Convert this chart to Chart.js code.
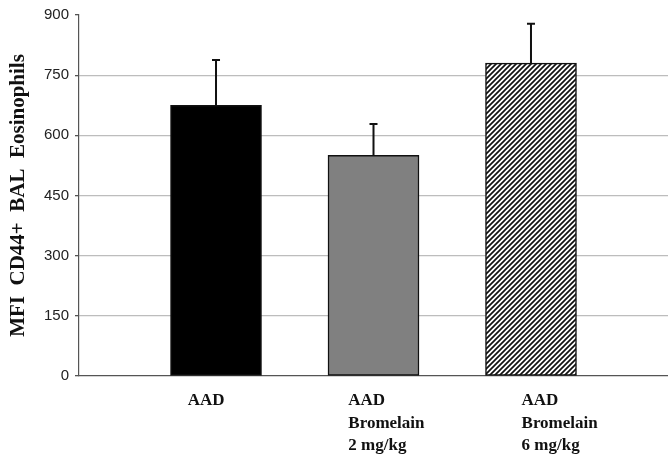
<!DOCTYPE html>
<html>
<head>
<meta charset="utf-8">
<script src="https://cdn.jsdelivr.net/npm/chart.js@4/dist/chart.umd.min.js"></script>
<style>
  html, body { margin: 0; padding: 0; background: #fff; }
  #wrap { width: 668px; height: 454px; }
</style>
</head>
<body>
<div id="wrap"><canvas id="chart" width="668" height="454"></canvas></div>
<script>
// groups, values
const groups = [["AAD"], ["AAD", "Bromelain", "2 mg/kg"], ["AAD", "Bromelain", "6 mg/kg"]];
const positions = [1, 2, 3];
const means = [675, 550, 780];
const upper = [788, 628, 878];
const yTicks = [0, 150, 300, 450, 600, 750, 900];
// where the left edge of each group label sits on the x scale
const labelPos = [0.82, 1.84, 2.94];

// hatch pattern for the third bar
const T = 5;
const tile = document.createElement('canvas');
tile.width = T; tile.height = T;
const tctx = tile.getContext('2d');
tctx.fillStyle = '#fff';
tctx.fillRect(0, 0, T, T);
tctx.strokeStyle = '#111';
tctx.lineWidth = 1.7;
tctx.beginPath();
tctx.moveTo(-1, T + 1); tctx.lineTo(T + 1, -1);
tctx.moveTo(-1, 1); tctx.lineTo(1, -1);
tctx.moveTo(T - 1, T + 1); tctx.lineTo(T + 1, T - 1);
tctx.stroke();
const hatch = document.getElementById('chart').getContext('2d').createPattern(tile, 'repeat');

const errorBars = {
	id: 'errorBars',
	afterDatasetsDraw(chart) {
		const { ctx, scales: { x, y } } = chart;
		ctx.save();
		ctx.strokeStyle = '#111';
		ctx.lineWidth = 2;
		positions.forEach((p, i) => {
			const px = x.getPixelForValue(p);
			const top = y.getPixelForValue(upper[i]);
			const base = y.getPixelForValue(means[i]);
			ctx.beginPath();
			ctx.moveTo(px, base);
			ctx.lineTo(px, top);
			ctx.moveTo(px - 4, top);
			ctx.lineTo(px + 4, top);
			ctx.stroke();
		});
		ctx.restore();
	}
};

new Chart(document.getElementById('chart'), {
	type: 'bar',
	data: {
		datasets: [{
			data: positions.map((p, i) => ({ x: p, y: means[i] })),
			backgroundColor: ['#000', '#808080', hatch],
			borderColor: '#111',
			borderWidth: 1.5,
			borderSkipped: false,
			barThickness: 91
		}]
	},
	plugins: [errorBars],
	options: {
		responsive: false,
		animation: false,
		layout: { padding: { top: 11, right: 0, left: 0, bottom: 0 } },
		plugins: {
			legend: { display: false },
			tooltip: { enabled: false }
		},
		scales: {
			x: {
				type: 'linear',
				offset: false,
				min: 0.13,
				max: 3.87,
				afterBuildTicks: (scale) => {
					scale.ticks = labelPos.map(v => ({ value: v }));
				},
				afterFit: (scale) => { scale.height = 78; },
				grid: { display: false },
				border: { display: true, color: '#555', width: 1.2 },
				ticks: {
					align: 'start',
					padding: 6,
					color: '#111',
					font: { family: 'Liberation Serif', size: 17, weight: 'bold', lineHeight: 1.3 },
					callback: (v, i) => groups[i]
				}
			},
			y: {
				min: 0,
				max: 900,
				afterBuildTicks: (scale) => {
					scale.ticks = yTicks.map(v => ({ value: v }));
				},
				afterFit: (scale) => { scale.width = 79; },
				grid: {
					color: (c) => (c.tick && (c.tick.value === 0 || c.tick.value === 900)) ? 'rgba(0,0,0,0)' : '#bdbdbd',
					lineWidth: 1.3,
					tickColor: '#555',
					tickLength: 4
				},
				border: { display: true, color: '#555', width: 1.2 },
				ticks: {
					padding: 6,
					color: '#222',
					font: { family: 'Liberation Sans', size: 15 }
				},
				title: {
					display: true,
					text: 'MFI  CD44+  BAL  Eosinophils',
					color: '#111',
					padding: { top: 6, bottom: 0 },
					font: { family: 'Liberation Serif', size: 21, weight: 'bold' }
				}
			}
		}
	}
});
</script>
</body>
</html>
